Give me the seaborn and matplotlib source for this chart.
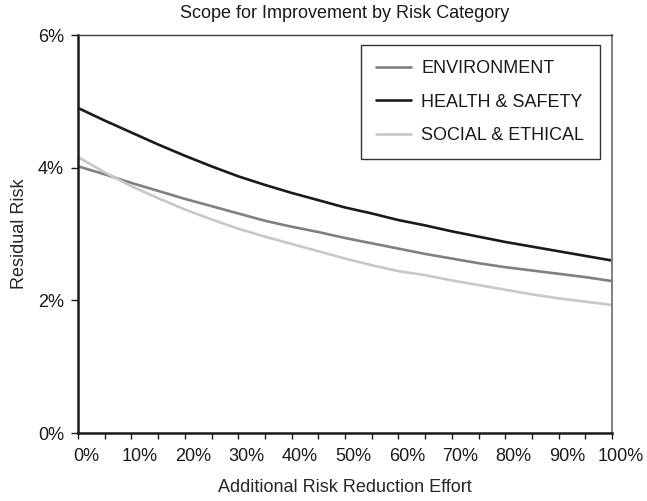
import matplotlib
matplotlib.use('Agg')
import matplotlib.pyplot as plt
import matplotlib.transforms as mtransforms
from matplotlib.ticker import FuncFormatter, MultipleLocator
import pandas as pd
import seaborn as sns

# data (residual risk in %, effort in %)
effort = [0, 5, 10, 15, 20, 25, 30, 35, 40, 45, 50, 55, 60, 65, 70, 75, 80, 85, 90, 95, 100]
environment = [4.02, 3.90, 3.77, 3.65, 3.53, 3.42, 3.31, 3.20, 3.11, 3.03, 2.94,
               2.86, 2.78, 2.70, 2.63, 2.56, 2.50, 2.45, 2.40, 2.35, 2.29]
health_safety = [4.90, 4.71, 4.53, 4.35, 4.18, 4.02, 3.87, 3.74, 3.62, 3.51, 3.40,
                 3.31, 3.21, 3.13, 3.04, 2.96, 2.88, 2.81, 2.74, 2.67, 2.60]
social_ethical = [4.16, 3.93, 3.72, 3.54, 3.37, 3.22, 3.08, 2.96, 2.85, 2.74, 2.63,
                  2.53, 2.44, 2.38, 2.30, 2.23, 2.16, 2.09, 2.03, 1.98, 1.93]
categories = ['ENVIRONMENT', 'HEALTH & SAFETY', 'SOCIAL & ETHICAL']
colours = ['#808080', '#1a1a1a', '#c8c8c8']

df = pd.concat([
    pd.DataFrame({'Effort': effort, 'Risk': vals, 'Category': name})
    for name, vals in zip(categories, [environment, health_safety, social_ethical])
], ignore_index=True)

sns.set_style('white')
plt.rcParams['font.family'] = ['Liberation Sans', 'DejaVu Sans']
plt.rcParams['text.color'] = '#1a1a1a'

fig = plt.figure(figsize=(6.47, 5.01), dpi=100)
ax = fig.add_axes([78 / 647, 68 / 501, 534 / 647, 398 / 501])

sns.lineplot(data=df, x='Effort', y='Risk', hue='Category', hue_order=categories,
             palette=colours, linewidth=1.9, ax=ax, legend=True)

ax.set_xlim(0, 100)
ax.set_ylim(0, 6)
ax.xaxis.set_major_locator(MultipleLocator(10))
ax.xaxis.set_minor_locator(MultipleLocator(5))
ax.yaxis.set_major_locator(MultipleLocator(2))
ax.xaxis.set_major_formatter(FuncFormatter(lambda v, p: f'{v:.0f}%'))
ax.yaxis.set_major_formatter(FuncFormatter(lambda v, p: f'{v:.0f}%'))

ax.tick_params(axis='x', which='both', direction='out', length=4, width=1,
               color='#1a1a1a', bottom=True, labelsize=13, pad=7, labelcolor='#1a1a1a')
ax.tick_params(axis='y', which='major', direction='out', length=5, width=1,
               color='#1a1a1a', left=True, labelsize=13, pad=5, labelcolor='#1a1a1a')

# Excel-style: the category labels sit a little right of their tick marks
shift = mtransforms.ScaledTranslation(0.085, 0, fig.dpi_scale_trans)
for lab in ax.get_xticklabels():
    lab.set_transform(lab.get_transform() + shift)

for side in ['left', 'bottom']:
    ax.spines[side].set_color('#1a1a1a')
    ax.spines[side].set_linewidth(1.8)
ax.spines['top'].set_color('#404040')
ax.spines['top'].set_linewidth(1.0)
ax.spines['right'].set_color('#808080')
ax.spines['right'].set_linewidth(1.4)

ax.set_xlabel('Additional Risk Reduction Effort', fontsize=13, labelpad=10)
ax.set_ylabel('Residual Risk', fontsize=13, labelpad=7)
fig.text(345 / 647, 1 - 13 / 501, 'Scope for Improvement by Risk Category',
         ha='center', va='center', fontsize=13)

leg = ax.legend(loc='upper left', bbox_to_anchor=(361 / 647, 1 - 45 / 501),
                bbox_transform=fig.transFigure, borderaxespad=0, fontsize=13,
                handlelength=1.9, handletextpad=0.6, labelspacing=0.9,
                borderpad=0.85, fancybox=False, framealpha=1)
leg.get_frame().set_edgecolor('#333333')
leg.get_frame().set_linewidth(1.0)
for line in leg.get_lines():
    line.set_linewidth(1.9)

fig.savefig('out.png', dpi=100)
